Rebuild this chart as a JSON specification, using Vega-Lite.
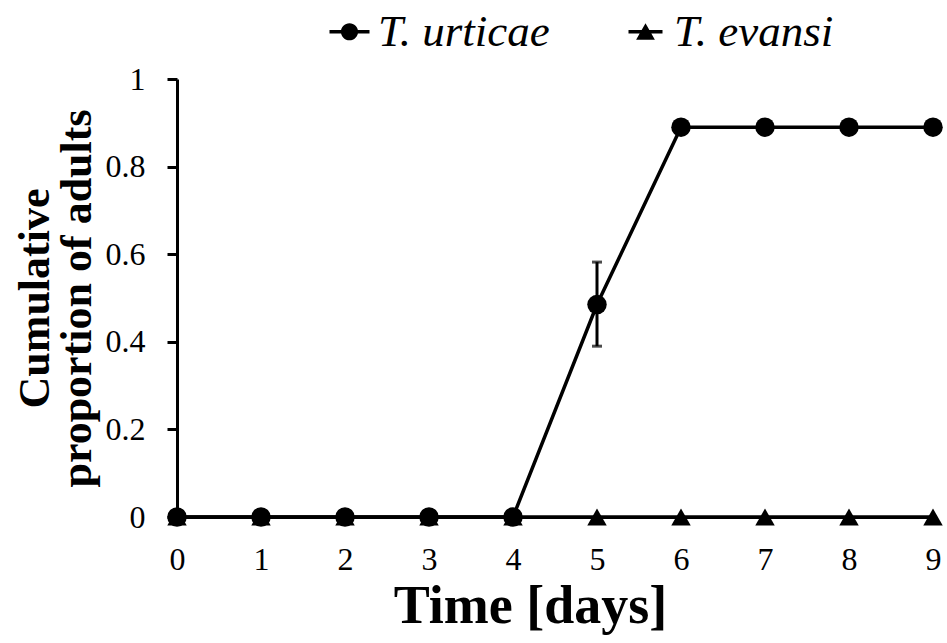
{
  "$schema": "https://vega.github.io/schema/vega-lite/v6.json",
  "width": 756,
  "height": 438,
  "autosize": {"type": "none"},
  "padding": {"left": 177, "top": 79, "right": 14, "bottom": 126},
  "background": "white",
  "config": {
    "view": {"stroke": null},
    "font": "Liberation Serif",
    "axis": {"grid": false, "domainColor": "black", "tickColor": "black", "labelColor": "black", "titleColor": "black", "labelFont": "Liberation Serif", "titleFont": "Liberation Serif"}
  },
  "datasets": {
    "pts": [
      {"day": 0, "species": "T. urticae", "prop": 0},
      {"day": 1, "species": "T. urticae", "prop": 0},
      {"day": 2, "species": "T. urticae", "prop": 0},
      {"day": 3, "species": "T. urticae", "prop": 0},
      {"day": 4, "species": "T. urticae", "prop": 0},
      {"day": 5, "species": "T. urticae", "prop": 0.485},
      {"day": 6, "species": "T. urticae", "prop": 0.89},
      {"day": 7, "species": "T. urticae", "prop": 0.89},
      {"day": 8, "species": "T. urticae", "prop": 0.89},
      {"day": 9, "species": "T. urticae", "prop": 0.89},
      {"day": 0, "species": "T. evansi", "prop": 0},
      {"day": 1, "species": "T. evansi", "prop": 0},
      {"day": 2, "species": "T. evansi", "prop": 0},
      {"day": 3, "species": "T. evansi", "prop": 0},
      {"day": 4, "species": "T. evansi", "prop": 0},
      {"day": 5, "species": "T. evansi", "prop": 0},
      {"day": 6, "species": "T. evansi", "prop": 0},
      {"day": 7, "species": "T. evansi", "prop": 0},
      {"day": 8, "species": "T. evansi", "prop": 0},
      {"day": 9, "species": "T. evansi", "prop": 0}
    ],
    "err": [
      {"day": 5, "species": "T. urticae", "lo": 0.39, "hi": 0.582}
    ]
  },
  "layer": [
    {
      "data": {"name": "pts"},
      "mark": {"type": "line", "color": "black", "strokeWidth": 3.5},
      "encoding": {
        "x": {"field": "day", "type": "quantitative", "scale": {"domain": [0, 9], "nice": false}, "title": "Time [days]",
              "axis": {"values": [0,1,2,3,4,5,6,7,8,9], "format": "~g", "ticks": false, "domain": true, "domainWidth": 3, "labelFontSize": 32, "labelPadding": 27, "labelFlush": false,
                       "titleFontSize": 54, "titleFontWeight": "bold", "titlePadding": 4, "titleX": 353, "titleAnchor": "middle"}},
        "y": {"field": "prop", "type": "quantitative", "scale": {"domain": [0, 1], "nice": false},
              "title": ["Cumulative", "proportion of adults"],
              "axis": {"values": [0, 0.2, 0.4, 0.6, 0.8, 1], "format": "~g", "tickSize": 10, "tickWidth": 3, "domainWidth": 3, "labelFontSize": 32, "labelPadding": 22, "labelFlush": false,
                       "titleFontSize": 44, "titleFontWeight": "bold", "titlePadding": 6, "titleLineHeight": 42}},
        "detail": {"field": "species"}
      }
    },
    {
      "data": {"name": "err"},
      "mark": {"type": "errorbar", "ticks": {"size": 10, "thickness": 3, "color": "black"}, "rule": {"strokeWidth": 3, "color": "black"}},
      "encoding": {
        "x": {"field": "day", "type": "quantitative", "title": "Time [days]"},
        "y": {"field": "lo", "type": "quantitative", "title": ["Cumulative", "proportion of adults"]},
        "y2": {"field": "hi"}
      }
    },
    {
      "data": {"name": "pts"},
      "mark": {"type": "point", "filled": true, "color": "black", "opacity": 1, "size": 380},
      "encoding": {
        "x": {"field": "day", "type": "quantitative", "title": "Time [days]"},
        "y": {"field": "prop", "type": "quantitative", "title": ["Cumulative", "proportion of adults"]},
        "shape": {"field": "species", "type": "nominal",
                  "scale": {"domain": ["T. urticae", "T. evansi"], "range": ["circle", "triangle-up"]}, "legend": null}
      }
    },
    {
      "data": {"name": "pts"},
      "mark": {"type": "point", "filled": true, "color": "black", "opacity": 0},
      "encoding": {
        "x": {"field": "day", "type": "quantitative", "title": "Time [days]"},
        "y": {"field": "prop", "type": "quantitative", "title": ["Cumulative", "proportion of adults"]},
        "shape": {"field": "species", "type": "nominal", "title": null,
                  "scale": {"domain": ["T. urticae", "T. evansi"],
                            "range": ["M-1,-0.09L1,-0.09L1,0.09L-1,0.09Z M0.43,0A0.43,0.43 0 1,1 -0.43,0A0.43,0.43 0 1,1 0.43,0Z", "M-0.85,-0.09L0.85,-0.09L0.85,0.09L-0.85,0.09Z M-0.47,0.4L0,-0.42L0.47,0.4Z"]},
                  "legend": {"orient": "none", "direction": "horizontal", "columns": 2, "legendX": 150, "legendY": -70,
                             "symbolSize": 1600, "symbolOpacity": 1, "symbolFillColor": "black", "symbolStrokeColor": "black", "symbolStrokeWidth": 0,
                             "labelFontSize": 45, "labelFontStyle": "italic", "labelFont": "Liberation Serif", "labelColor": "black", "labelOffset": 6, "labelLimit": 400, "columnPadding": 73, "symbolOffset": 0,
                             "encoding": {"symbols": {"fill": {"value": "black"}, "opacity": {"value": 1}}}}}
      }
    }
  ],
  "resolve": {"scale": {"shape": "independent"}}
}
